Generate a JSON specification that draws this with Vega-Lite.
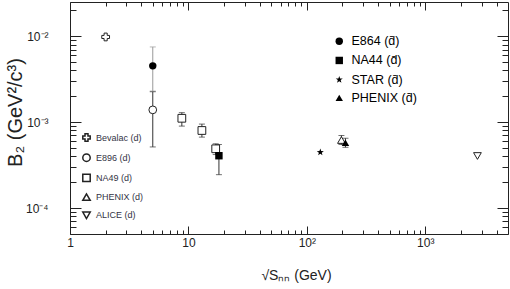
{
  "$schema": "https://vega.github.io/schema/vega-lite/v6.json",
  "width": 438,
  "height": 232,
  "autosize": "none",
  "padding": {"left": 70, "top": 2, "right": 2, "bottom": 55},
  "config": {"view": {"stroke": null}, "axis": {"grid": false}, "font": "Liberation Sans"},
  "data": {
    "values": [
      {"exp": "Bevalac (d)", "kind": "d", "sqrts": 2.0, "b2": 0.0098},
      {"exp": "E896 (d)", "kind": "d", "sqrts": 5.0, "b2": 0.00139, "lo": 0.000515, "hi": 0.00226},
      {"exp": "NA49 (d)", "kind": "d", "sqrts": 8.8, "b2": 0.00111, "lo": 0.0009, "hi": 0.00129},
      {"exp": "NA49 (d)", "kind": "d", "sqrts": 13.0, "b2": 0.0008, "lo": 0.00067, "hi": 0.00095},
      {"exp": "NA49 (d)", "kind": "d", "sqrts": 17.0, "b2": 0.00049, "lo": 0.00042, "hi": 0.00056},
      {"exp": "PHENIX (d)", "kind": "d", "sqrts": 196, "b2": 0.00062, "lo": 0.00055, "hi": 0.0007},
      {"exp": "ALICE (d)", "kind": "d", "sqrts": 2760, "b2": 0.000404},
      {"exp": "E864 (d̄)", "kind": "dbar", "sqrts": 5.0, "b2": 0.00452, "lo": 0.0023, "hi": 0.0075},
      {"exp": "NA44 (d̄)", "kind": "dbar", "sqrts": 18.1, "b2": 0.000407, "lo": 0.000245, "hi": 0.00055},
      {"exp": "STAR (d̄)", "kind": "dbar", "sqrts": 130, "b2": 0.000446},
      {"exp": "PHENIX (d̄)", "kind": "dbar", "sqrts": 212, "b2": 0.000577, "lo": 0.00051, "hi": 0.00065}
    ]
  },
  "layer": [
    {
      "transform": [{"filter": "isValid(datum.lo)"}],
      "mark": {"type": "errorbar", "ticks": {"size": 6}, "rule": {"strokeWidth": 1}},
      "encoding": {
        "x": {"field": "sqrts", "type": "quantitative", "scale": {"type": "log", "domain": [1, 5000], "nice": false}, "axis": null},
        "y": {"field": "lo", "type": "quantitative", "scale": {"type": "log", "domain": [0.00005, 0.025], "nice": false}, "axis": null},
        "y2": {"field": "hi"},
        "color": {"condition": {"test": "datum.exp == 'E864 (d̄)'", "value": "#999999"}, "value": "#333333"}
      }
    },
    {
      "transform": [{"filter": "datum.kind == 'd'"}],
      "mark": {"type": "point", "filled": true, "color": "white", "size": 60, "opacity": 1},
      "encoding": {
        "x": {"field": "sqrts", "type": "quantitative", "scale": {"type": "log", "domain": [1, 5000], "nice": false}, "axis": null},
        "y": {"field": "b2", "type": "quantitative", "scale": {"type": "log", "domain": [0.00005, 0.025], "nice": false}, "axis": null},
        "shape": {"field": "exp", "type": "nominal",
          "scale": {"domain": ["Bevalac (d)", "E896 (d)", "NA49 (d)", "PHENIX (d)", "ALICE (d)"], "range": ["cross", "circle", "square", "triangle-up", "triangle-down"]},
          "legend": null}
      }
    },
    {
      "transform": [{"filter": "datum.kind == 'd'"}],
      "mark": {"type": "point", "filled": false, "color": "#222222", "strokeWidth": 1, "size": 60, "opacity": 1},
      "encoding": {
        "x": {"field": "sqrts", "type": "quantitative", "scale": {"type": "log", "domain": [1, 5000], "nice": false},
          "axis": {"orient": "bottom", "values": [1, 10, 100, 1000], "tickSize": -8, "tickColor": "#222222", "domainColor": "#222222",
            "labelExpr": "datum.value == 1 ? '1' : datum.value == 10 ? '10' : datum.value == 100 ? '10²' : '10³'",
            "labelFontSize": 12, "labelColor": "#222222", "labelPadding": 11, "labelFlush": false, "labelOverlap": false,
            "title": "√Sₙₙ (GeV)", "titleFontSize": 14, "titleFontWeight": "normal", "titleColor": "#222222", "titleX": 226, "titleY": 45, "titleBaseline": "alphabetic"}},
        "y": {"field": "b2", "type": "quantitative", "scale": {"type": "log", "domain": [0.00005, 0.025], "nice": false},
          "axis": {"orient": "left", "values": [0.0001, 0.001, 0.01], "tickSize": -11, "tickColor": "#222222", "domainColor": "#222222",
            "labelExpr": "datum.value > 0.005 ? '10⁻²' : datum.value > 0.0005 ? '10⁻³' : '10⁻⁴'",
            "labelFontSize": 12, "labelColor": "#222222", "labelPadding": 33, "labelFlush": false, "labelOverlap": false,
            "title": "B₂ (GeV²/c³)", "titleFontSize": 20, "titleFontWeight": "normal", "titleColor": "#222222", "titleX": -55, "titleY": 110, "titleAlign": "center", "titleBaseline": "middle"}},
        "shape": {"field": "exp", "type": "nominal",
          "scale": {"domain": ["Bevalac (d)", "E896 (d)", "NA49 (d)", "PHENIX (d)", "ALICE (d)"], "range": ["cross", "circle", "square", "triangle-up", "triangle-down"]},
          "legend": {"orient": "none", "legendX": 12, "legendY": 131, "title": null, "padding": 0, "symbolSize": 55, "labelFontSize": 9, "labelColor": "#333344", "rowPadding": 5.2, "labelOffset": 5}}
      }
    },
    {
      "transform": [{"filter": "datum.kind == 'dbar'"}],
      "mark": {"type": "point", "filled": true, "color": "black", "size": 55, "opacity": 1},
      "encoding": {
        "x": {"field": "sqrts", "type": "quantitative", "scale": {"type": "log", "domain": [1, 5000], "nice": false}, "axis": null},
        "y": {"field": "b2", "type": "quantitative", "scale": {"type": "log", "domain": [0.00005, 0.025], "nice": false}, "axis": null},
        "shape": {"field": "exp", "type": "nominal",
          "scale": {"domain": ["E864 (d̄)", "NA44 (d̄)", "STAR (d̄)", "PHENIX (d̄)"], "range": ["circle", "square", "M0,-1L0.235,-0.324L0.951,-0.309L0.38,0.124L0.588,0.809L0,0.4L-0.588,0.809L-0.38,0.124L-0.951,-0.309L-0.235,-0.324Z", "triangle-up"]},
          "legend": {"orient": "none", "legendX": 263, "legendY": 33, "title": null, "padding": 0, "symbolFillColor": "black", "symbolStrokeColor": "black", "symbolSize": 55, "labelFontSize": 12.5, "labelColor": "black", "rowPadding": 5.2, "labelOffset": 6}}
      }
    },
    {
      "mark": {"type": "point", "opacity": 0},
      "encoding": {
        "x": {"field": "sqrts", "type": "quantitative", "scale": {"type": "log", "domain": [1, 5000], "nice": false},
          "axis": {"orient": "top", "values": [1, 10, 100, 1000], "tickSize": -8, "tickColor": "#222222", "domainColor": "#222222", "labels": false, "title": null}},
        "y": {"field": "b2", "type": "quantitative", "scale": {"type": "log", "domain": [0.00005, 0.025], "nice": false},
          "axis": {"orient": "right", "values": [0.0001, 0.001, 0.01], "tickSize": -11, "tickColor": "#222222", "domainColor": "#222222", "labels": false, "title": null}}
      }
    },
    {
      "mark": {"type": "point", "opacity": 0},
      "encoding": {
        "x": {"field": "sqrts", "type": "quantitative", "scale": {"type": "log", "domain": [1, 5000], "nice": false},
          "axis": {"orient": "bottom", "values": [2, 3, 4, 5, 6, 7, 8, 9, 20, 30, 40, 50, 60, 70, 80, 90, 200, 300, 400, 500, 600, 700, 800, 900, 2000, 3000, 4000], "tickSize": -4, "tickColor": "#222222", "domain": false, "labels": false, "title": null}},
        "y": {"field": "b2", "type": "quantitative", "scale": {"type": "log", "domain": [0.00005, 0.025], "nice": false},
          "axis": {"orient": "left", "values": [0.00005, 0.00006, 0.00007, 0.00008, 0.00009, 0.0002, 0.0003, 0.0004, 0.0005, 0.0006, 0.0007, 0.0008, 0.0009, 0.002, 0.003, 0.004, 0.005, 0.006, 0.007, 0.008, 0.009, 0.02], "tickSize": -6, "tickColor": "#222222", "domain": false, "labels": false, "title": null}}
      }
    },
    {
      "mark": {"type": "point", "opacity": 0},
      "encoding": {
        "x": {"field": "sqrts", "type": "quantitative", "scale": {"type": "log", "domain": [1, 5000], "nice": false},
          "axis": {"orient": "top", "values": [2, 3, 4, 5, 6, 7, 8, 9, 20, 30, 40, 50, 60, 70, 80, 90, 200, 300, 400, 500, 600, 700, 800, 900, 2000, 3000, 4000], "tickSize": -4, "tickColor": "#222222", "domain": false, "labels": false, "title": null}},
        "y": {"field": "b2", "type": "quantitative", "scale": {"type": "log", "domain": [0.00005, 0.025], "nice": false},
          "axis": {"orient": "right", "values": [0.00005, 0.00006, 0.00007, 0.00008, 0.00009, 0.0002, 0.0003, 0.0004, 0.0005, 0.0006, 0.0007, 0.0008, 0.0009, 0.002, 0.003, 0.004, 0.005, 0.006, 0.007, 0.008, 0.009, 0.02], "tickSize": -6, "tickColor": "#222222", "domain": false, "labels": false, "title": null}}
      }
    }
  ],
  "resolve": {
    "scale": {"shape": "independent"},
    "legend": {"shape": "independent"},
    "axis": {"x": "independent", "y": "independent"}
  }
}
